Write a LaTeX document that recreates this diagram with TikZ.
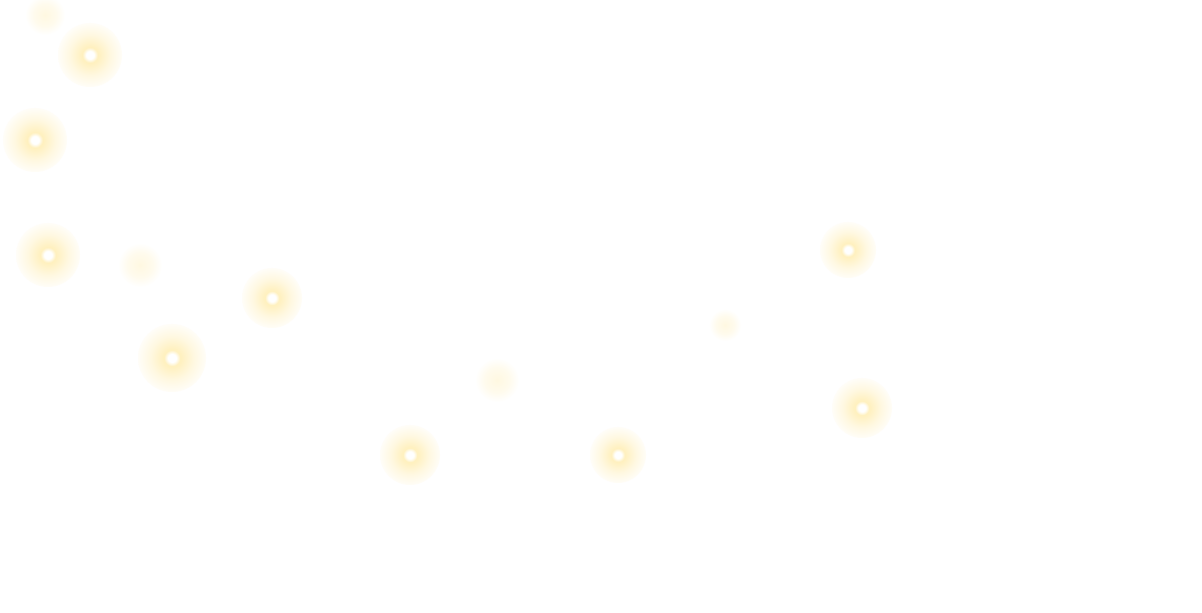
\documentclass[tikz,border=0pt]{standalone}
\definecolor{glowc}{RGB}{255,240,190}
\definecolor{glowd}{RGB}{255,248,225}
\pgfdeclareradialshading{glow}{\pgfpoint{0cm}{0cm}}{color(0bp)=(white); color(3bp)=(white); color(6bp)=(glowc); color(16bp)=(glowd); color(28bp)=(white); color(50bp)=(white)}
\pgfdeclareradialshading{glowfaint}{\pgfpoint{0cm}{0cm}}{color(0bp)=(glowd); color(14bp)=(glowd!60); color(25bp)=(white); color(50bp)=(white)}
\begin{document}
\begin{tikzpicture}[x=0.01cm,y=-0.01cm]
\fill[white] (0,0) rectangle (1202,613);
\useasboundingbox (0,0) rectangle (1202,613);
\foreach \x/\y/\r in {90/55/32, 35/140/32, 48/255/32, 272/298/30, 172/358/34, 410/455/30, 618/455/28, 848/250/28, 862/408/30}{
  \shade[shading=glow] (\x,\y) circle (\r);
}
\foreach \x/\y/\r in {140/265/22, 497/380/22, 725/325/16, 45/15/20}{
  \shade[shading=glowfaint] (\x,\y) circle (\r);
}
\end{tikzpicture}
\end{document}
